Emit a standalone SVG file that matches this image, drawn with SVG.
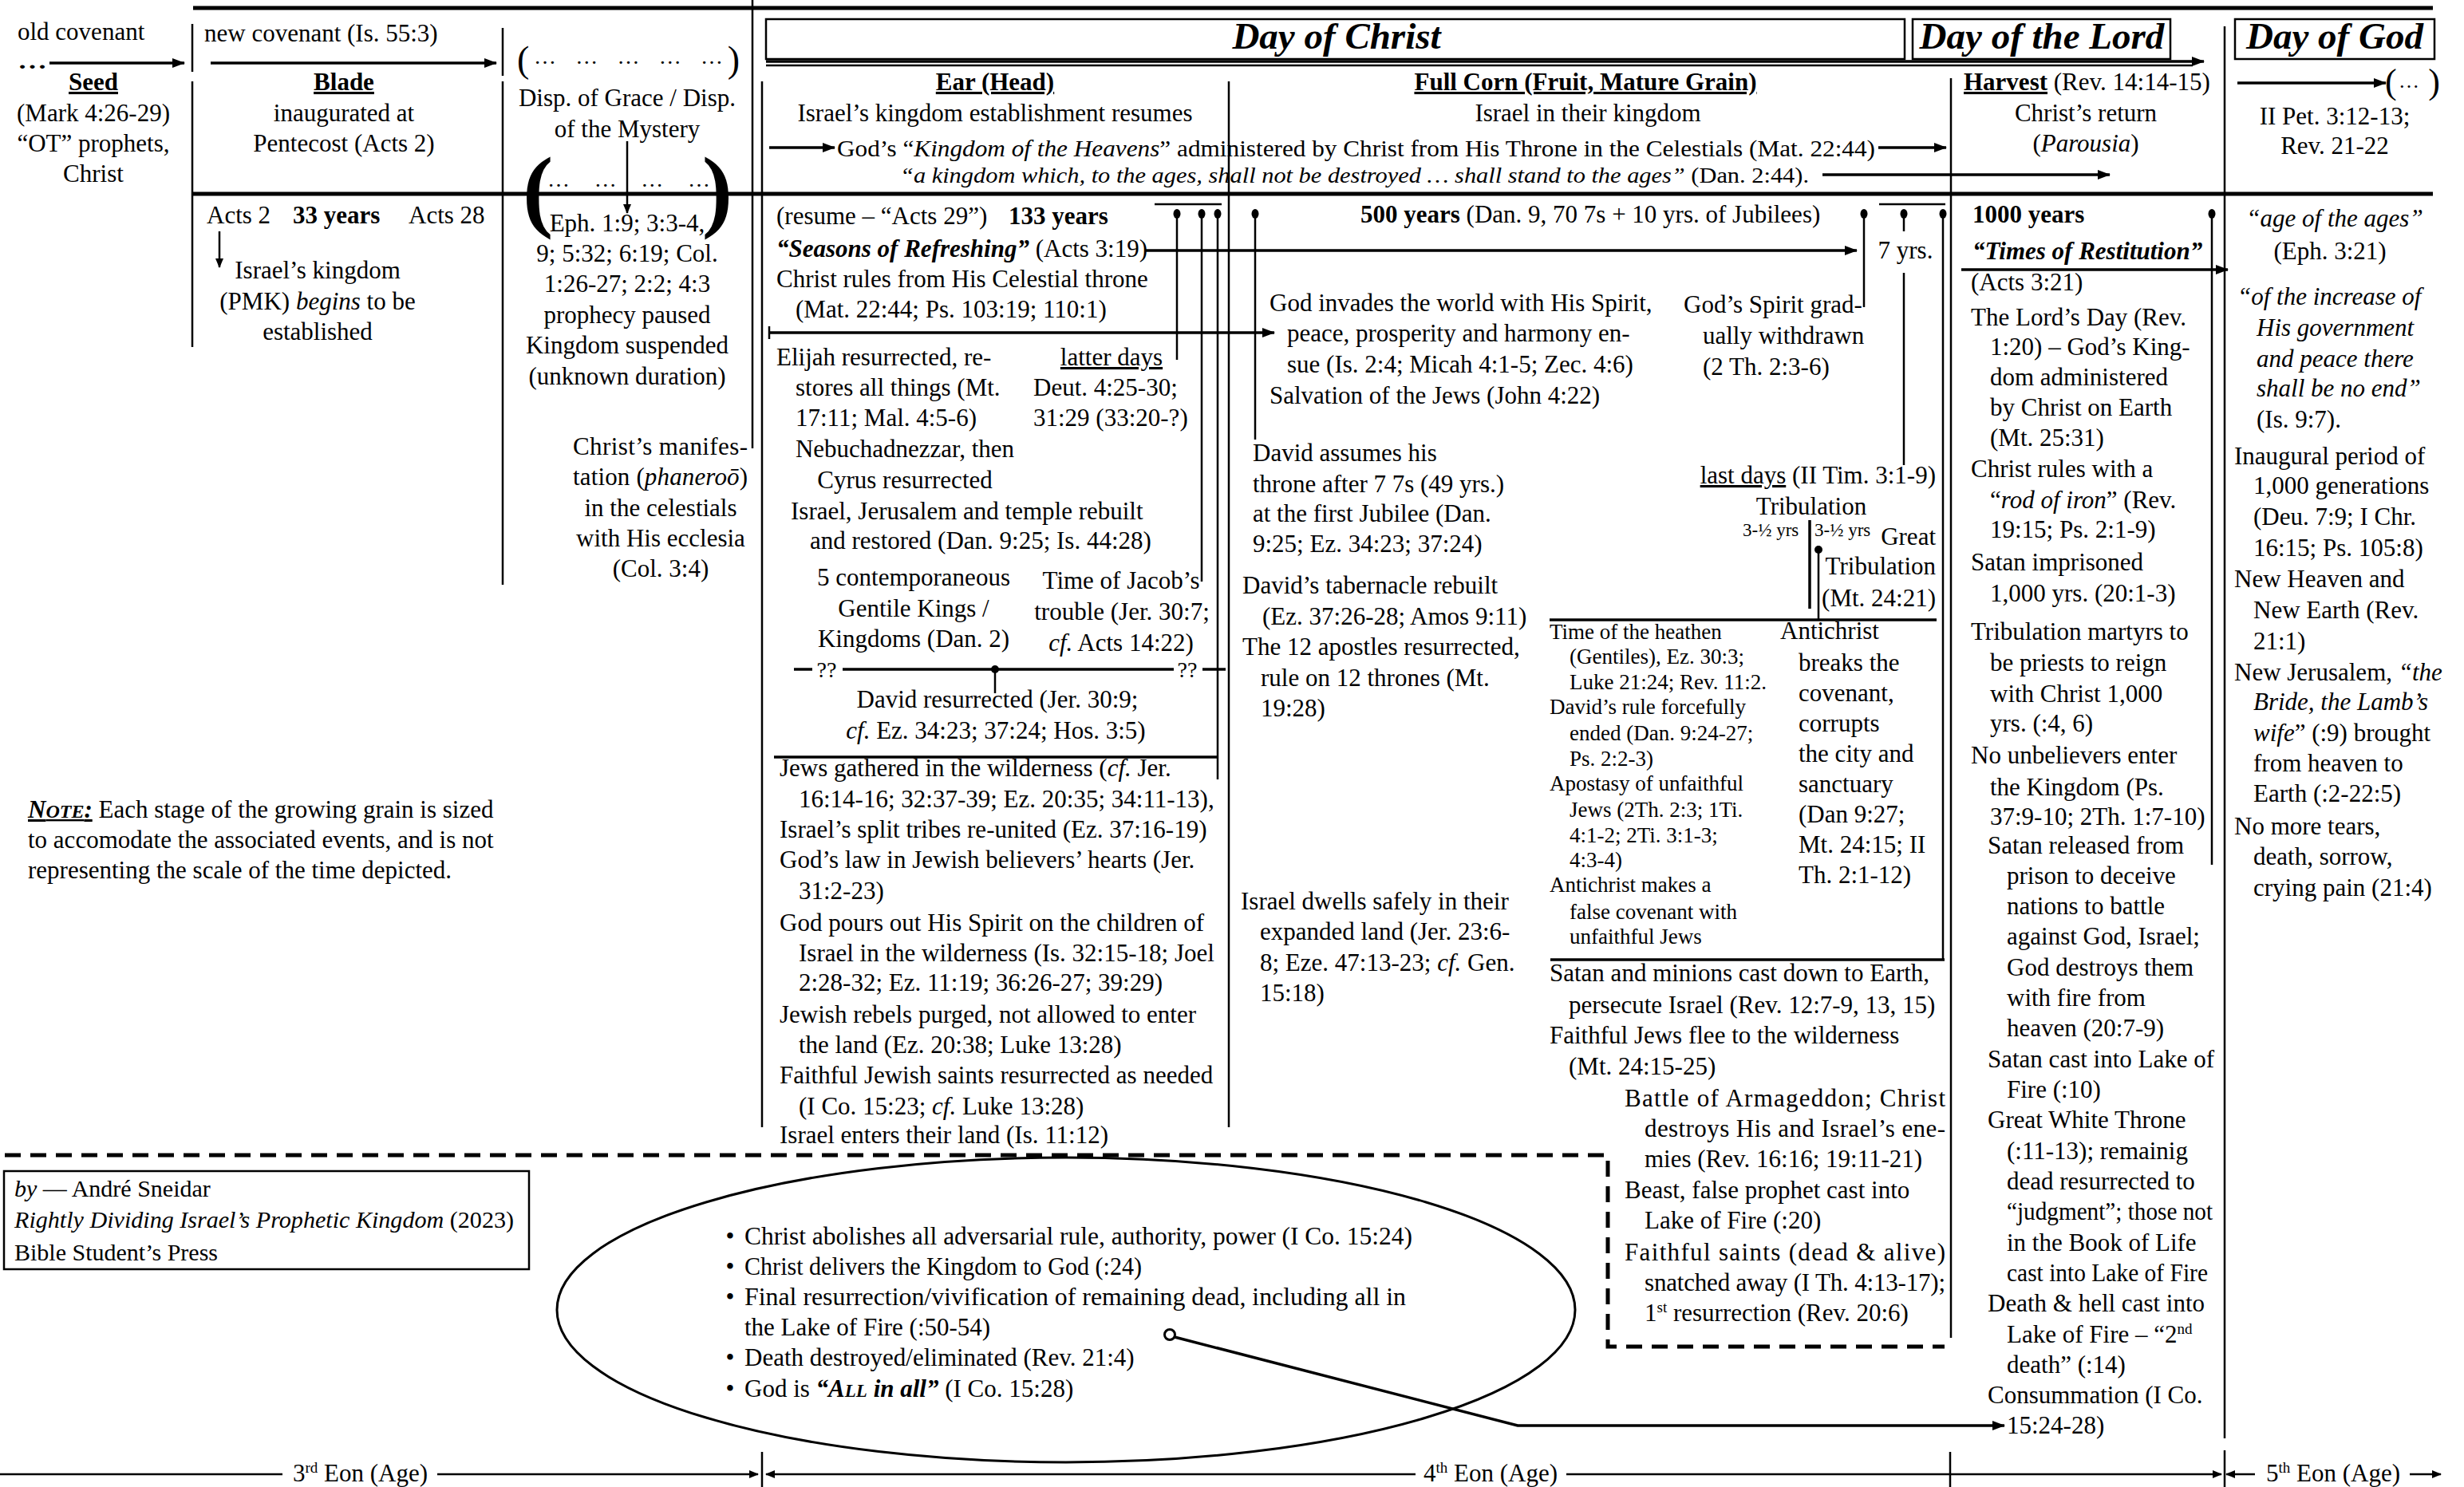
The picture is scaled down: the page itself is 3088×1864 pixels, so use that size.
<svg xmlns="http://www.w3.org/2000/svg" width="3088" height="1864" viewBox="0 0 3088 1864">
<style>
text{font-family:"Liberation Serif","Times New Roman",serif;font-size:31px;fill:#000}
.b{font-weight:bold}
.i{font-style:italic}
.c{text-anchor:middle}
.e{text-anchor:end}
.u{text-decoration:underline}
.s{font-size:27px}
.xs{font-size:23px}
.h{font-size:47px;font-weight:bold;font-style:italic}
.ln{stroke:#000;stroke-width:2.5;fill:none}
.lt{stroke:#000;stroke-width:3.5;fill:none}
.thk{stroke:#000;stroke-width:5;fill:none}
.dash{stroke:#000;stroke-width:5;fill:none;stroke-dasharray:20 12}
.box{fill:none;stroke:#000;stroke-width:2.5}
.dot{fill:#000}
</style>
<defs>
<marker id="ah" viewBox="0 0 16 12" refX="15" refY="6" markerWidth="16" markerHeight="12" markerUnits="userSpaceOnUse" orient="auto-start-reverse"><path d="M0,0 L16,6 L0,12 z" fill="#000"/></marker>
<marker id="as" viewBox="0 0 12 10" refX="11" refY="5" markerWidth="12" markerHeight="10" markerUnits="userSpaceOnUse" orient="auto-start-reverse"><path d="M0,0 L12,5 L0,10 z" fill="#000"/></marker>
</defs>
<rect width="3088" height="1864" fill="#fff"/>

<g id="connectors">
<line class="thk" x1="242" y1="10" x2="3049" y2="10"/>
<line class="thk" x1="242" y1="243" x2="3049" y2="243"/>
<line class="ln" x1="241" y1="30" x2="241" y2="90"/>
<line class="ln" x1="241" y1="102" x2="241" y2="435"/>
<line class="ln" x1="630" y1="35" x2="630" y2="95"/>
<line class="ln" x1="630" y1="102" x2="630" y2="733"/>
<line class="ln" x1="943" y1="0" x2="943" y2="562"/>
<line class="ln" x1="955" y1="102" x2="955" y2="1413"/>
<line class="ln" x1="1540" y1="102" x2="1540" y2="1413"/>
<line class="ln" x1="2445" y1="98" x2="2445" y2="1677"/>
<line class="ln" x1="2788" y1="33" x2="2788" y2="1803"/>
<line class="lt" x1="62" y1="79" x2="231" y2="79" marker-end="url(#ah)"/>
<line class="lt" x1="264" y1="79" x2="622" y2="79" marker-end="url(#ah)"/>
<line class="ln" x1="786" y1="177" x2="786" y2="267" stroke-width="2" marker-end="url(#as)"/>
<line class="ln" x1="275" y1="290" x2="275" y2="335" marker-end="url(#as)"/>
<line class="lt" x1="960" y1="77" x2="2762" y2="77" marker-end="url(#ah)"/>
<line class="ln" x1="960" y1="82" x2="2748" y2="82" stroke-width="1.5"/>
<line class="lt" x1="964" y1="185" x2="1046" y2="185" marker-end="url(#ah)"/>
<line class="lt" x1="2354" y1="185" x2="2439" y2="185" marker-end="url(#ah)"/>
<line class="lt" x1="2284" y1="219" x2="2644" y2="219" marker-end="url(#ah)"/>
<line class="lt" x1="2804" y1="104" x2="2990" y2="104" marker-end="url(#ah)"/>
<line class="lt" x1="1435" y1="314" x2="2327" y2="314" marker-end="url(#ah)"/>
<line class="lt" x1="964" y1="417" x2="1597" y2="417" marker-end="url(#ah)"/>
<line class="ln" x1="964" y1="409" x2="964" y2="425"/>
<line class="ln" x1="1447" y1="256" x2="1531" y2="256"/>
<ellipse class="dot" cx="1475" cy="268" rx="4.5" ry="6"/>
<ellipse class="dot" cx="1506" cy="268" rx="4.5" ry="6"/>
<ellipse class="dot" cx="1526" cy="268" rx="4.5" ry="6"/>
<ellipse class="dot" cx="1573" cy="268" rx="4.5" ry="6"/>
<line class="ln" x1="1475" y1="268" x2="1475" y2="451"/>
<line class="ln" x1="1506" y1="268" x2="1506" y2="729"/>
<line class="ln" x1="1526" y1="268" x2="1526" y2="977"/>
<line class="ln" x1="1573" y1="268" x2="1573" y2="551"/>
<line class="lt" x1="970" y1="949" x2="1526" y2="949"/>
<line class="lt" x1="995" y1="839" x2="1018" y2="839"/>
<line class="lt" x1="1056" y1="839" x2="1471" y2="839"/>
<line class="lt" x1="1507" y1="839" x2="1536" y2="839"/>
<circle class="dot" cx="1247" cy="839" r="5"/>
<line class="ln" x1="1247" y1="839" x2="1247" y2="869"/>
<ellipse class="dot" cx="2336" cy="268" rx="4.5" ry="6"/>
<ellipse class="dot" cx="2386" cy="268" rx="4.5" ry="6"/>
<ellipse class="dot" cx="2435" cy="268" rx="4.5" ry="6"/>
<line class="ln" x1="2355" y1="256" x2="2438" y2="256"/>
<line class="ln" x1="2336" y1="268" x2="2336" y2="385"/>
<line class="ln" x1="2386" y1="268" x2="2386" y2="290"/>
<line class="ln" x1="2386" y1="342" x2="2386" y2="583"/>
<line class="ln" x1="2435" y1="268" x2="2435" y2="1203"/>
<line class="lt" x1="2268" y1="652" x2="2268" y2="763" stroke-width="3"/>
<circle class="dot" cx="2279" cy="689" r="5"/>
<line class="ln" x1="2279" y1="689" x2="2279" y2="777"/>
<line class="lt" x1="1942" y1="777" x2="2427" y2="777"/>
<line class="lt" x1="1943" y1="1203" x2="2437" y2="1203"/>
<ellipse class="dot" cx="2772" cy="268" rx="4.5" ry="6"/>
<line class="ln" x1="2772" y1="268" x2="2772" y2="1084"/>
<line class="lt" x1="2458" y1="338" x2="2792" y2="338" marker-end="url(#ah)"/>
<polyline class="dash" points="6,1448 2015,1448 2015,1688 2437,1688"/>
<ellipse cx="1336" cy="1642" rx="638" ry="191" fill="none" stroke="#000" stroke-width="3"/>
<polyline class="lt" points="1472,1676 1902,1787 2512,1787" marker-end="url(#ah)"/>
<circle cx="1466" cy="1673" r="6.5" fill="#fff" stroke="#000" stroke-width="3"/>
<line class="ln" x1="0" y1="1848" x2="354" y2="1848"/>
<line class="ln" x1="548" y1="1848" x2="950" y2="1848" marker-end="url(#as)"/>
<line class="ln" x1="960" y1="1848" x2="1774" y2="1848" marker-start="url(#as)"/>
<line class="ln" x1="1963" y1="1848" x2="2784" y2="1848" marker-end="url(#as)"/>
<line class="ln" x1="2790" y1="1848" x2="2826" y2="1848" marker-start="url(#as)"/>
<line class="ln" x1="3020" y1="1848" x2="3059" y2="1848" marker-end="url(#as)"/>
<line class="ln" x1="955" y1="1820" x2="955" y2="1864"/>
<line class="ln" x1="2444" y1="1820" x2="2444" y2="1864"/>
<line class="ln" x1="2788" y1="1818" x2="2788" y2="1864"/>
</g>

<g id="seed">
<text x="22" y="50">old covenant</text>
<text x="22" y="86" class="b" style="font-size:28px" textLength="37" lengthAdjust="spacingAndGlyphs">…</text>
<text x="117" y="113" class="c b u">Seed</text>
<text x="117" y="152" class="c">(Mark 4:26-29)</text>
<text x="117" y="190" class="c">“OT” prophets,</text>
<text x="117" y="228" class="c">Christ</text>
</g>

<g id="blade">
<text x="256" y="52">new covenant (Is. 55:3)</text>
<text x="431" y="113" class="c b u">Blade</text>
<text x="431" y="152" class="c">inaugurated at</text>
<text x="431" y="190" class="c">Pentecost (Acts 2)</text>
<text x="259" y="280">Acts 2</text>
<text x="367" y="280" class="b">33 years</text>
<text x="512" y="280">Acts 28</text>
<text x="398" y="349" class="c">Israel’s kingdom</text>
<text x="398" y="388" class="c">(PMK) <tspan class="i">begins</tspan> to be</text>
<text x="398" y="426" class="c">established</text>
</g>

<g id="mystery">
<text x="648" y="90" style="font-size:46px">(</text>
<text x="669" y="80" style="font-size:28px" textLength="237" lengthAdjust="spacing">… … … … …</text>
<text x="927" y="90" class="e" style="font-size:46px">)</text>
<text x="786" y="133" class="c">Disp. of Grace / Disp.</text>
<text x="786" y="172" class="c">of the Mystery</text>
<text x="655" y="276" class="b" style="font-size:115px">(</text>
<text x="686" y="234" style="font-size:28px" textLength="204" lengthAdjust="spacing">… … … …</text>
<text x="918" y="276" class="b e" style="font-size:115px">)</text>
<text x="786" y="290" class="c">Eph. 1:9; 3:3-4,</text>
<text x="786" y="328" class="c">9; 5:32; 6:19; Col.</text>
<text x="786" y="366" class="c">1:26-27; 2:2; 4:3</text>
<text x="786" y="405" class="c">prophecy paused</text>
<text x="786" y="443" class="c">Kingdom suspended</text>
<text x="786" y="482" class="c">(unknown duration)</text>
<text x="718" y="570" textLength="219" lengthAdjust="spacing">Christ’s manifes-</text>
<text x="718" y="608" textLength="219" lengthAdjust="spacing">tation (<tspan class="i">phaneroō</tspan>)</text>
<text x="828" y="647" class="c">in the celestials</text>
<text x="828" y="685" class="c">with His ecclesia</text>
<text x="828" y="723" class="c">(Col. 3:4)</text>
</g>

<g id="day-of-christ">
<rect class="box" x="960" y="24" width="1427" height="50"/>
<text x="1675" y="61" class="c h">Day of Christ</text>
</g>
<g id="day-of-the-lord">
<rect class="box" x="2397" y="24" width="323" height="50"/>
<text x="2559" y="61" class="c h">Day of the Lord</text>
</g>
<g id="day-of-god">
<rect class="box" x="2801" y="24" width="250" height="50"/>
<text x="2926" y="61" class="c h">Day of God</text>
<text x="2989" y="117" style="font-size:44px">(</text>
<text x="3006" y="110" style="font-size:26px">…</text>
<text x="3058" y="117" class="e" style="font-size:44px">)</text>
<text x="2926" y="156" class="c">II Pet. 3:12-13;</text>
<text x="2926" y="193" class="c">Rev. 21-22</text>
</g>

<g id="ear">
<text x="1247" y="113" class="c b u">Ear (Head)</text>
<text x="1247" y="152" class="c">Israel’s kingdom establishment resumes</text>
</g>

<g id="kingdom-of-heavens">
<text x="1049" y="196" style="font-size:29px" textLength="1301" lengthAdjust="spacingAndGlyphs">God’s “<tspan class="i">Kingdom of the Heavens</tspan>” administered by Christ from His Throne in the Celestials (Mat. 22:44)</text>
<text x="1128" y="229" style="font-size:28px" textLength="1139" lengthAdjust="spacingAndGlyphs"><tspan class="i">“a kingdom which, to the ages, shall not be destroyed … shall stand to the ages”</tspan> (Dan. 2:44).</text>
</g>

<g id="full-corn">
<text x="1987" y="113" class="c b u">Full Corn (Fruit, Mature Grain)</text>
<text x="1990" y="152" class="c">Israel in their kingdom</text>
</g>

<g id="harvest">
<text x="2461" y="113"><tspan class="b u">Harvest</tspan> (Rev. 14:14-15)</text>
<text x="2614" y="152" class="c">Christ’s return</text>
<text x="2614" y="190" class="c">(<tspan class="i">Parousia</tspan>)</text>
</g>

<g id="ear-events">
<text x="973" y="281">(resume – “Acts 29”)</text>
<text x="1264" y="281" class="b">133 years</text>
<text x="973" y="322"><tspan class="b i">“Seasons of Refreshing”</tspan> (Acts 3:19)</text>
<text x="973" y="360">Christ rules from His Celestial throne</text>
<text x="997" y="398">(Mat. 22:44; Ps. 103:19; 110:1)</text>
<text x="973" y="458">Elijah resurrected, re-</text>
<text x="997" y="496">stores all things (Mt.</text>
<text x="997" y="534">17:11; Mal. 4:5-6)</text>
<text x="1393" y="458" class="c u">latter days</text>
<text x="1295" y="496">Deut. 4:25-30;</text>
<text x="1295" y="534">31:29 (33:20-?)</text>
<text x="1134" y="573" class="c">Nebuchadnezzar, then</text>
<text x="1134" y="612" class="c">Cyrus resurrected</text>
<text x="991" y="651">Israel, Jerusalem and temple rebuilt</text>
<text x="1015" y="688">and restored (Dan. 9:25; Is. 44:28)</text>
<text x="1145" y="734" class="c">5 contemporaneous</text>
<text x="1145" y="773" class="c">Gentile Kings /</text>
<text x="1145" y="811" class="c">Kingdoms (Dan. 2)</text>
<text x="1405" y="738" class="c">Time of Jacob’s</text>
<text x="1406" y="777" class="c">trouble (Jer. 30:7;</text>
<text x="1405" y="816" class="c"><tspan class="i">cf.</tspan> Acts 14:22)</text>
<text x="1036" y="849" class="c" style="font-size:28px">??</text>
<text x="1488" y="849" class="c" style="font-size:28px">??</text>
<text x="1250" y="887" class="c">David resurrected (Jer. 30:9;</text>
<text x="1248" y="926" class="c"><tspan class="i">cf.</tspan> Ez. 34:23; 37:24; Hos. 3:5)</text>
<text x="977" y="973">Jews gathered in the wilderness (<tspan class="i">cf.</tspan> Jer.</text>
<text x="1001" y="1012">16:14-16; 32:37-39; Ez. 20:35; 34:11-13),</text>
<text x="977" y="1050">Israel’s split tribes re-united (Ez. 37:16-19)</text>
<text x="977" y="1088">God’s law in Jewish believers’ hearts (Jer.</text>
<text x="1001" y="1127">31:2-23)</text>
<text x="977" y="1167">God pours out His Spirit on the children of</text>
<text x="1001" y="1205">Israel in the wilderness (Is. 32:15-18; Joel</text>
<text x="1001" y="1242">2:28-32; Ez. 11:19; 36:26-27; 39:29)</text>
<text x="977" y="1282">Jewish rebels purged, not allowed to enter</text>
<text x="1001" y="1320">the land (Ez. 20:38; Luke 13:28)</text>
<text x="977" y="1358">Faithful Jewish saints resurrected as needed</text>
<text x="1001" y="1397">(I Co. 15:23; <tspan class="i">cf.</tspan> Luke 13:28)</text>
<text x="977" y="1433">Israel enters their land (Is. 11:12)</text>
</g>

<g id="full-corn-events">
<text x="1705" y="279"><tspan class="b">500 years</tspan> (Dan. 9, 70 7s + 10 yrs. of Jubilees)</text>
<text x="2388" y="324" class="c">7 yrs.</text>
<text x="1591" y="390">God invades the world with His Spirit,</text>
<text x="1613" y="428">peace, prosperity and harmony en-</text>
<text x="1613" y="467">sue (Is. 2:4; Micah 4:1-5; Zec. 4:6)</text>
<text x="1591" y="506">Salvation of the Jews (John 4:22)</text>
<text x="2110" y="392">God’s Spirit grad-</text>
<text x="2134" y="431">ually withdrawn</text>
<text x="2134" y="470">(2 Th. 2:3-6)</text>
<text x="1570" y="578">David assumes his</text>
<text x="1570" y="617">throne after 7 7s (49 yrs.)</text>
<text x="1570" y="654">at the first Jubilee (Dan.</text>
<text x="1570" y="692">9:25; Ez. 34:23; 37:24)</text>
<text x="1557" y="744">David’s tabernacle rebuilt</text>
<text x="1582" y="783">(Ez. 37:26-28; Amos 9:11)</text>
<text x="1557" y="821">The 12 apostles resurrected,</text>
<text x="1580" y="860">rule on 12 thrones (Mt.</text>
<text x="1580" y="898">19:28)</text>
<text x="1555" y="1140">Israel dwells safely in their</text>
<text x="1579" y="1178">expanded land (Jer. 23:6-</text>
<text x="1579" y="1217">8; Eze. 47:13-23; <tspan class="i">cf.</tspan> Gen.</text>
<text x="1579" y="1255">15:18)</text>
</g>

<g id="tribulation">
<text x="2426" y="606" class="e"><tspan class="u">last days</tspan> (II Tim. 3:1-9)</text>
<text x="2270" y="645" class="c">Tribulation</text>
<text x="2184" y="672" class="xs">3-½ yrs</text>
<text x="2274" y="672" class="xs">3-½ yrs</text>
<text x="2426" y="683" class="e">Great</text>
<text x="2426" y="720" class="e">Tribulation</text>
<text x="2426" y="760" class="e">(Mt. 24:21)</text>
</g>

<g id="heathen">
<text x="1942" y="801" class="s">Time of the heathen</text>
<text x="1967" y="832" class="s">(Gentiles), Ez. 30:3;</text>
<text x="1967" y="864" class="s">Luke 21:24; Rev. 11:2.</text>
<text x="1942" y="895" class="s">David’s rule forcefully</text>
<text x="1967" y="928" class="s">ended (Dan. 9:24-27;</text>
<text x="1967" y="960" class="s">Ps. 2:2-3)</text>
<text x="1942" y="991" class="s">Apostasy of unfaithful</text>
<text x="1967" y="1024" class="s">Jews (2Th. 2:3; 1Ti.</text>
<text x="1967" y="1056" class="s">4:1-2; 2Ti. 3:1-3;</text>
<text x="1967" y="1087" class="s">4:3-4)</text>
<text x="1942" y="1118" class="s">Antichrist makes a</text>
<text x="1967" y="1152" class="s">false covenant with</text>
<text x="1967" y="1183" class="s">unfaithful Jews</text>
</g>

<g id="antichrist">
<text x="2231" y="801">Antichrist</text>
<text x="2254" y="841">breaks the</text>
<text x="2254" y="879">covenant,</text>
<text x="2254" y="917">corrupts</text>
<text x="2254" y="955">the city and</text>
<text x="2254" y="993">sanctuary</text>
<text x="2254" y="1031">(Dan 9:27;</text>
<text x="2254" y="1069">Mt. 24:15; II</text>
<text x="2254" y="1107">Th. 2:1-12)</text>
</g>

<g id="great-tribulation-events">
<text x="1942" y="1230">Satan and minions cast down to Earth,</text>
<text x="1966" y="1270">persecute Israel (Rev. 12:7-9, 13, 15)</text>
<text x="1942" y="1308">Faithful Jews flee to the wilderness</text>
<text x="1966" y="1347">(Mt. 24:15-25)</text>
<text x="2036" y="1387" textLength="402" lengthAdjust="spacing">Battle of Armageddon; Christ</text>
<text x="2061" y="1425" textLength="377" lengthAdjust="spacing">destroys His and Israel’s ene-</text>
<text x="2061" y="1463">mies (Rev. 16:16; 19:11-21)</text>
<text x="2036" y="1502">Beast, false prophet cast into</text>
<text x="2061" y="1540">Lake of Fire (:20)</text>
<text x="2036" y="1580" textLength="402" lengthAdjust="spacing">Faithful saints (dead &amp; alive)</text>
<text x="2061" y="1618" textLength="377" lengthAdjust="spacing">snatched away (I Th. 4:13-17);</text>
<text x="2061" y="1656">1<tspan dy="-11" style="font-size:19px">st</tspan><tspan dy="11"> resurrection (Rev. 20:6)</tspan></text>
</g>

<g id="thousand-years">
<text x="2472" y="279" class="b">1000 years</text>
<text x="2472" y="325" class="b i">“Times of Restitution”</text>
<text x="2470" y="364">(Acts 3:21)</text>
<text x="2470" y="408">The Lord’s Day (Rev.</text>
<text x="2494" y="445">1:20) – God’s King-</text>
<text x="2494" y="483">dom administered</text>
<text x="2494" y="521">by Christ on Earth</text>
<text x="2494" y="559">(Mt. 25:31)</text>
<text x="2470" y="598">Christ rules with a</text>
<text x="2494" y="637">“<tspan class="i">rod of iron</tspan>” (Rev.</text>
<text x="2494" y="674">19:15; Ps. 2:1-9)</text>
<text x="2470" y="715">Satan imprisoned</text>
<text x="2494" y="754">1,000 yrs. (20:1-3)</text>
<text x="2470" y="802">Tribulation martyrs to</text>
<text x="2494" y="841">be priests to reign</text>
<text x="2494" y="880">with Christ 1,000</text>
<text x="2494" y="917">yrs. (:4, 6)</text>
<text x="2470" y="957">No unbelievers enter</text>
<text x="2494" y="997">the Kingdom (Ps.</text>
<text x="2494" y="1034">37:9-10; 2Th. 1:7-10)</text>
<text x="2491" y="1070">Satan released from</text>
<text x="2515" y="1108">prison to deceive</text>
<text x="2515" y="1146">nations to battle</text>
<text x="2515" y="1184">against God, Israel;</text>
<text x="2515" y="1223">God destroys them</text>
<text x="2515" y="1261">with fire from</text>
<text x="2515" y="1299">heaven (20:7-9)</text>
<text x="2491" y="1338">Satan cast into Lake of</text>
<text x="2515" y="1376">Fire (:10)</text>
<text x="2491" y="1414">Great White Throne</text>
<text x="2515" y="1453">(:11-13); remainig</text>
<text x="2515" y="1491">dead resurrected to</text>
<text x="2515" y="1529" textLength="258" lengthAdjust="spacingAndGlyphs">“judgment”; those not</text>
<text x="2515" y="1568">in the Book of Life</text>
<text x="2515" y="1606" textLength="252" lengthAdjust="spacingAndGlyphs">cast into Lake of Fire</text>
<text x="2491" y="1644">Death &amp; hell cast into</text>
<text x="2515" y="1683">Lake of Fire – “2<tspan dy="-11" style="font-size:19px">nd</tspan></text>
<text x="2515" y="1721">death” (:14)</text>
<text x="2491" y="1759">Consummation (I Co.</text>
<text x="2515" y="1797">15:24-28)</text>
</g>

<g id="age-of-ages">
<text x="2926" y="284" class="c i">“age of the ages”</text>
<text x="2920" y="325" class="c">(Eph. 3:21)</text>
<text x="2804" y="382" class="i">“of the increase of</text>
<text x="2828" y="421" class="i">His government</text>
<text x="2828" y="460" class="i">and peace there</text>
<text x="2828" y="497" class="i">shall be no end”</text>
<text x="2828" y="536">(Is. 9:7).</text>
<text x="2800" y="582">Inaugural period of</text>
<text x="2824" y="619">1,000 generations</text>
<text x="2824" y="658">(Deu. 7:9; I Chr.</text>
<text x="2824" y="697">16:15; Ps. 105:8)</text>
<text x="2800" y="736">New Heaven and</text>
<text x="2824" y="775">New Earth (Rev.</text>
<text x="2824" y="814">21:1)</text>
<text x="2800" y="853">New Jerusalem, <tspan class="i">“the</tspan></text>
<text x="2824" y="890" class="i">Bride, the Lamb’s</text>
<text x="2824" y="929"><tspan class="i">wife</tspan>” (:9) brought</text>
<text x="2824" y="967">from heaven to</text>
<text x="2824" y="1005">Earth (:2-22:5)</text>
<text x="2800" y="1046">No more tears,</text>
<text x="2824" y="1084">death, sorrow,</text>
<text x="2824" y="1123">crying pain (21:4)</text>
</g>

<g id="note">
<text x="35" y="1025"><tspan class="b i u">N<tspan style="font-size:24px">OTE</tspan>:</tspan> Each stage of the growing grain is sized</text>
<text x="35" y="1063">to accomodate the associated events, and is not</text>
<text x="35" y="1101">representing the scale of the time depicted.</text>
</g>

<g id="author">
<rect class="box" x="5" y="1468" width="658" height="123"/>
<text x="18" y="1500" style="font-size:30px"><tspan class="i">by</tspan> — André Sneidar</text>
<text x="18" y="1539" style="font-size:30px" textLength="626" lengthAdjust="spacingAndGlyphs"><tspan class="i">Rightly Dividing Israel’s Prophetic Kingdom</tspan> (2023)</text>
<text x="18" y="1580" style="font-size:30px">Bible Student’s Press</text>
</g>

<g id="consummation">
<text x="915" y="1560" class="c">•</text>
<text x="933" y="1560" textLength="837" lengthAdjust="spacingAndGlyphs">Christ abolishes all adversarial rule, authority, power (I Co. 15:24)</text>
<text x="915" y="1598" class="c">•</text>
<text x="933" y="1598" textLength="498" lengthAdjust="spacingAndGlyphs">Christ delivers the Kingdom to God (:24)</text>
<text x="915" y="1636" class="c">•</text>
<text x="933" y="1636" textLength="829" lengthAdjust="spacingAndGlyphs">Final resurrection/vivification of remaining dead, including all in</text>
<text x="933" y="1674">the Lake of Fire (:50-54)</text>
<text x="915" y="1712" class="c">•</text>
<text x="933" y="1712">Death destroyed/eliminated (Rev. 21:4)</text>
<text x="915" y="1751" class="c">•</text>
<text x="933" y="1751">God is <tspan class="b i">“A<tspan style="font-size:23px">LL</tspan> in all”</tspan>  (I Co. 15:28)</text>
</g>

<g id="eons">
<text x="367" y="1857">3<tspan dy="-11" style="font-size:19px">rd</tspan><tspan dy="11"> Eon (Age)</tspan></text>
<text x="1784" y="1857">4<tspan dy="-11" style="font-size:19px">th</tspan><tspan dy="11"> Eon (Age)</tspan></text>
<text x="2840" y="1857">5<tspan dy="-11" style="font-size:19px">th</tspan><tspan dy="11"> Eon (Age)</tspan></text>
</g>
</svg>
